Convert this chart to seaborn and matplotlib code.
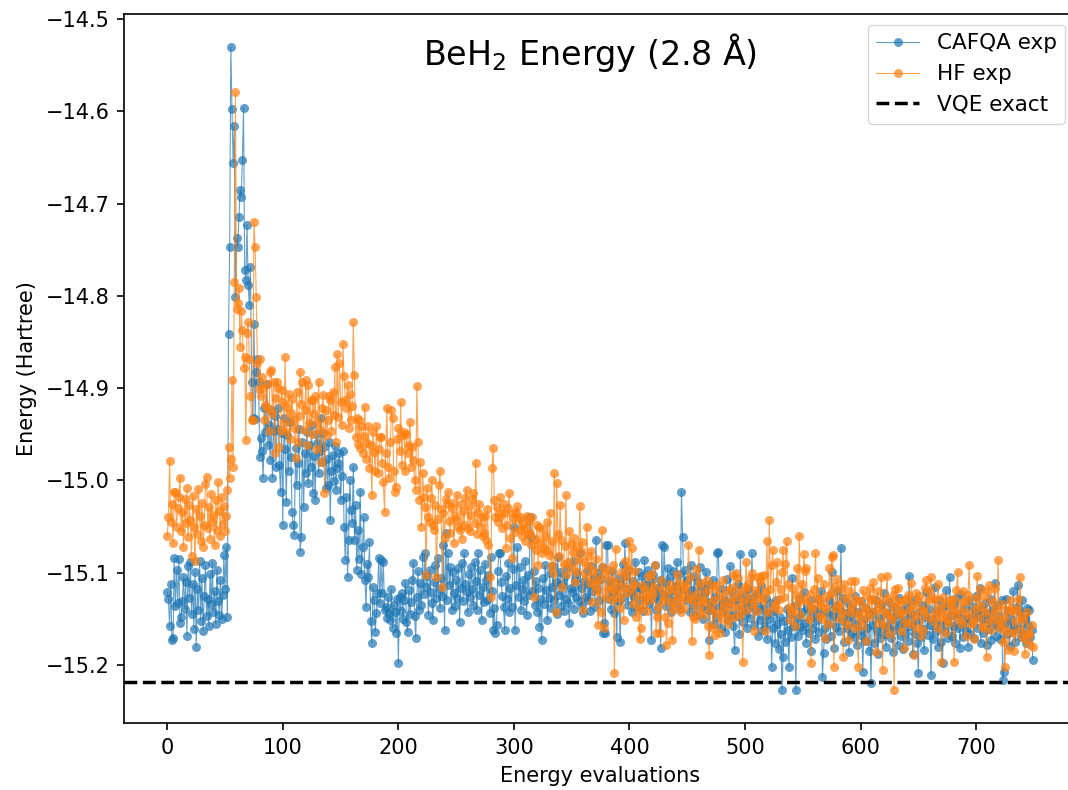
import numpy as np
import pandas as pd
import matplotlib
matplotlib.use("Agg")
import matplotlib.pyplot as plt
import seaborn as sns

# ---------------- data (energies in milli-Hartree) ----------------
cafqa_mha = [
    -15121, -15128, -15158, -15112, -15173, -15171, -15084, -15136, -15097, -15133,
    -15085, -15154, -15148, -15131, -15105, -15139, -15110, -15168, -15093, -15127,
    -15088, -15145, -15112, -15161, -15099, -15180, -15118, -15140, -15087, -15152,
    -15106, -15163, -15125, -15092, -15147, -15128, -15158, -15101, -15134, -15089,
    -15142, -15120, -15155, -15097, -15131, -15146, -15108, -15150, -15124, -15081,
    -15118, -15072, -15148, -14841, -14747, -14530, -14598, -14656, -14616, -14801,
    -14737, -14747, -14715, -14685, -14693, -14653, -14596, -14772, -14783, -14723,
    -14788, -14810, -14769, -14893, -14932, -14830, -14933, -14882, -14868, -14893,
    -14975, -14954, -14968, -14997, -14921, -14948, -14895, -14962, -14940, -14978,
    -14924, -14997, -14946, -14930, -14985, -14944, -14921, -14983, -15012, -14949,
    -15048, -14932, -14966, -15023, -14951, -14990, -14937, -14975, -15034, -15048,
    -15059, -14965, -15005, -14981, -14944, -15077, -15061, -14958, -15029, -14970,
    -14992, -14948, -15003, -14962, -14985, -14940, -15014, -14973, -15021, -14950,
    -14959, -14992, -14968, -14932, -14980, -14949, -14964, -15008, -14977, -15005,
    -14958, -15043, -14990, -14972, -15001, -14963, -15010, -14987, -14981, -14970,
    -15021, -14995, -14968, -15050, -15086, -15018, -15105, -15064, -14999, -15032,
    -15046, -14985, -15064, -15027, -15097, -15054, -15085, -15012, -15101, -15072,
    -15040, -15108, -15137, -15090, -15105, -15067, -15152, -15176, -15115, -15130,
    -15164, -15144, -15122, -15084, -15133, -15086, -15122, -15088, -15140, -15137,
    -15149, -15126, -15144, -15151, -15118, -15160, -15135, -15142, -15165, -15128,
    -15198, -15126, -15141, -15122, -15150, -15130, -15111, -15153, -15164, -15119,
    -15145, -15132, -15108, -15089, -15147, -15171, -15126, -15098, -15140, -15111,
    -15135, -15083, -15123, -15079, -15115, -15104, -15146, -15097, -15121, -15133,
    -15151, -15110, -15092, -15127, -15084, -15118, -15138, -15106, -15125, -15070,
    -15162, -15057, -15130, -15079, -15113, -15094, -15140, -15099, -15122, -15136,
    -15108, -15127, -15095, -15153, -15116, -15089, -15131, -15079, -15112, -15121,
    -15143, -15101, -15126, -15094, -15118, -15135, -15088, -15109, -15140, -15079,
    -15124, -15097, -15151, -15115, -15132, -15090, -15108, -15129, -15102, -15144,
    -15083, -15120, -15162, -15138, -15165, -15157, -15098, -15079, -15079, -15110,
    -15125, -15137, -15162, -15104, -15128, -15089, -15142, -15117, -15137, -15096,
    -15050, -15162, -15113, -15072, -15126, -15094, -15140, -15118, -15108, -15131,
    -15087, -15146, -15102, -15124, -15040, -15061, -15120, -15098, -15135, -15109,
    -15142, -15117, -15159, -15128, -15173, -15106, -15134, -15092, -15119, -15151,
    -15127, -15100, -15138, -15115, -15093, -15129, -15110, -15145, -15083, -15124,
    -15099, -15136, -15112, -15141, -15104, -15128, -15095, -15133, -15154, -15116,
    -15121, -15087, -15139, -15108, -15126, -15100, -15131, -15079, -15117, -15135,
    -15144, -15109, -15126, -15098, -15130, -15112, -15141, -15093, -15120, -15106,
    -15137, -15064, -15118, -15100, -15129, -15107, -15094, -15165, -15154, -15165,
    -15070, -15070, -15128, -15110, -15139, -15098, -15122, -15144, -15117, -15170,
    -15106, -15131, -15175, -15112, -15090, -15126, -15068, -15104, -15118, -15135,
    -15097, -15121, -15143, -15109, -15126, -15088, -15137, -15115, -15099, -15130,
    -15118, -15104, -15141, -15086, -15113, -15128, -15097, -15134, -15110, -15173,
    -15102, -15125, -15092, -15140, -15116, -15131, -15108, -15181, -15070, -15123,
    -15072, -15111, -15136, -15095, -15127, -15105, -15142, -15119, -15098, -15133,
    -15114, -15088, -15125, -15101, -15139, -15012, -15061, -15118, -15097, -15130,
    -15108, -15124, -15143, -15092, -15119, -15135, -15103, -15128, -15146, -15110,
    -15126, -15094, -15137, -15115, -15150, -15121, -15099, -15140, -15113, -15173,
    -15132, -15140, -15108, -15155, -15126, -15148, -15079, -15077, -15136, -15160,
    -15118, -15142, -15129, -15164, -15107, -15151, -15133, -15093, -15146, -15120,
    -15158, -15184, -15128, -15147, -15112, -15166, -15080, -15139, -15153, -15124,
    -15145, -15131, -15160, -15118, -15149, -15135, -15079, -15127, -15157, -15140,
    -15122, -15168, -15136, -15151, -15114, -15162, -15139, -15158, -15127, -15172,
    -15144, -15150, -15133, -15202, -15160, -15141, -15176, -15129, -15155, -15183,
    -15148, -15166, -15227, -15191, -15152, -15175, -15139, -15162, -15202, -15145,
    -15170, -15106, -15158, -15136, -15227, -15149, -15168, -15127, -15159, -15143,
    -15162, -15121, -15154, -15176, -15138, -15165, -15130, -15185, -15147, -15160,
    -15139, -15172, -15151, -15128, -15164, -15145, -15120, -15213, -15187, -15160,
    -15172, -15142, -15155, -15130, -15168, -15099, -15147, -15181, -15136, -15159,
    -15120, -15163, -15140, -15073, -15152, -15127, -15175, -15144, -15160, -15133,
    -15186, -15148, -15166, -15139, -15170, -15125, -15155, -15178, -15142, -15162,
    -15131, -15169, -15207, -15150, -15174, -15138, -15160, -15185, -15145, -15219,
    -15157, -15142, -15176, -15130, -15163, -15188, -15149, -15171, -15135, -15158,
    -15122, -15166, -15180, -15144, -15159, -15132, -15171, -15150, -15186, -15137,
    -15162, -15146, -15178, -15127, -15155, -15169, -15140, -15183, -15151, -15165,
    -15136, -15174, -15103, -15158, -15145, -15188, -15130, -15166, -15152, -15176,
    -15209, -15143, -15170, -15135, -15161, -15184, -15148, -15121, -15167, -15139,
    -15157, -15211, -15150, -15172, -15115, -15163, -15141, -15180, -15129, -15156,
    -15175, -15198, -15136, -15163, -15119, -15152, -15171, -15105, -15146, -15168,
    -15158, -15134, -15176, -15127, -15160, -15145, -15182, -15123, -15155, -15170,
    -15138, -15163, -15149, -15180, -15130, -15166, -15152, -15137, -15171, -15144,
    -15125, -15160, -15147, -15117, -15176, -15139, -15165, -15150, -15133, -15178,
    -15145, -15161, -15128, -15173, -15140, -15156, -15111, -15168, -15135, -15159,
    -15147, -15172, -15130, -15216, -15207, -15154, -15128, -15166, -15141, -15179,
    -15150, -15163, -15120, -15158, -15175, -15137, -15113, -15161, -15142, -15170,
    -15129, -15166, -15149, -15176, -15138, -15157, -15140, -15170, -15162, -15194,
]

hf_mha = [
    -15060, -15040, -14979, -15045, -15025, -15068, -15012, -15012, -15050, -15030,
    -15018, -14997, -15055, -15034, -15072, -15020, -15046, -15008, -15061, -15027,
    -15043, -15082, -15017, -15050, -15087, -15031, -15058, -15009, -15039, -15066,
    -15024, -15072, -15048, -15004, -14996, -15052, -15029, -15063, -15015, -15045,
    -15037, -15070, -15021, -15054, -15002, -15033, -15060, -15018, -15047, -15028,
    -15055, -15038, -15010, -14964, -14997, -14977, -14891, -14985, -14785, -14579,
    -14814, -14808, -14791, -14855, -14816, -14837, -14878, -14866, -14956, -14840,
    -14828, -14868, -14909, -14934, -14934, -14720, -14747, -14801, -14873, -14901,
    -14868, -14909, -14888, -14900, -14935, -14918, -14896, -14922, -14946, -14882,
    -14880, -14927, -14893, -14970, -14911, -14893, -14900, -14964, -14945, -14902,
    -14915, -14938, -14866, -14948, -14920, -14906, -14955, -14927, -14912, -14935,
    -14943, -14976, -14904, -14958, -14930, -14882, -14917, -14893, -14945, -14924,
    -14891, -14962, -14897, -14938, -14913, -14950, -14913, -14928, -14909, -14966,
    -14937, -14893, -14945, -14980, -14921, -14907, -15014, -14924, -14951, -14935,
    -14908, -14913, -14946, -14904, -14929, -14877, -14958, -14863, -14931, -14873,
    -14915, -14940, -14852, -14887, -14913, -14921, -14897, -14943, -14906, -14935,
    -14919, -14828, -14886, -14953, -14932, -14960, -14934, -14965, -14941, -14970,
    -14952, -14920, -14977, -14959, -14941, -14986, -14962, -15016, -14948, -14969,
    -14990, -14941, -14992, -14966, -14953, -14953, -14981, -15002, -15034, -14970,
    -14921, -14985, -14997, -14958, -14924, -14932, -14990, -15012, -15007, -14955,
    -14943, -14968, -14915, -14983, -14951, -14947, -14990, -14950, -14970, -14962,
    -14937, -14985, -14964, -14978, -14999, -15010, -14898, -14958, -15021, -14980,
    -15050, -14992, -15018, -15029, -15102, -15008, -15040, -15045, -15019, -15000,
    -15048, -15054, -15027, -15105, -15042, -15005, -14990, -15031, -15115, -15035,
    -15062, -15020, -15025, -15012, -15044, -15057, -15030, -15024, -15068, -15039,
    -15043, -15016, -15050, -15054, -15026, -15063, -15033, -15048, -15019, -15010,
    -15052, -15028, -15055, -15037, -15020, -15014, -15046, -14981, -15058, -15034,
    -15025, -15049, -15040, -15060, -15057, -15038, -15064, -15031, -15070, -15105,
    -15126, -14986, -14965, -15021, -15040, -15029, -15045, -15040, -15018, -15035,
    -15052, -15026, -15035, -15073, -15048, -15030, -15014, -15062, -15084, -15041,
    -15035, -15056, -15034, -15028, -15042, -15054, -15040, -15060, -15047, -15051,
    -15066, -15038, -15058, -15044, -15057, -15070, -15040, -15126, -15063, -15075,
    -15048, -15092, -15050, -15068, -15079, -15053, -15073, -15060, -15075, -15045,
    -15081, -15035, -15093, -15066, -15100, -14992, -15142, -15003, -15058, -15082,
    -15027, -15064, -15115, -15090, -15071, -15016, -15101, -15088, -15055, -15069,
    -15095, -15078, -15062, -15110, -15071, -15099, -15085, -15028, -15076, -15067,
    -15140, -15088, -15104, -15050, -15082, -15093, -15111, -15076, -15132, -15098,
    -15113, -15085, -15120, -15157, -15107, -15142, -15054, -15094, -15160, -15101,
    -15126, -15118, -15097, -15108, -15116, -15130, -15092, -15209, -15074, -15121,
    -15110, -15127, -15138, -15099, -15115, -15151, -15087, -15103, -15122, -15095,
    -15066, -15117, -15073, -15134, -15112, -15098, -15148, -15125, -15140, -15172,
    -15160, -15113, -15135, -15118, -15127, -15141, -15104, -15122, -15130, -15101,
    -15123, -15115, -15092, -15165, -15148, -15137, -15165, -15108, -15118, -15131,
    -15125, -15148, -15178, -15154, -15119, -15112, -15132, -15173, -15140, -15118,
    -15136, -15101, -15125, -15110, -15129, -15143, -15115, -15138, -15120, -15112,
    -15127, -15070, -15105, -15130, -15174, -15148, -15124, -15150, -15096, -15135,
    -15075, -15142, -15111, -15128, -15146, -15132, -15120, -15108, -15158, -15189,
    -15139, -15113, -15160, -15129, -15167, -15118, -15113, -15144, -15165, -15125,
    -15150, -15108, -15135, -15142, -15120, -15155, -15149, -15131, -15116, -15137,
    -15102, -15148, -15100, -15126, -15106, -15137, -15145, -15120, -15197, -15131,
    -15115, -15088, -15140, -15112, -15127, -15105, -15100, -15134, -15163, -15119,
    -15141, -15105, -15126, -15109, -15104, -15130, -15102, -15163, -15121, -15066,
    -15143, -15043, -15118, -15092, -15075, -15137, -15134, -15110, -15088, -15140,
    -15128, -15118, -15099, -15075, -15126, -15090, -15066, -15112, -15137, -15151,
    -15143, -15116, -15140, -15158, -15124, -15095, -15133, -15060, -15146, -15112,
    -15128, -15080, -15098, -15095, -15132, -15150, -15123, -15198, -15139, -15135,
    -15118, -15079, -15126, -15106, -15147, -15129, -15135, -15150, -15112, -15171,
    -15138, -15125, -15156, -15095, -15122, -15083, -15081, -15202, -15114, -15138,
    -15107, -15135, -15150, -15118, -15144, -15191, -15112, -15127, -15155, -15173,
    -15120, -15143, -15109, -15136, -15160, -15109, -15128, -15145, -15202, -15131,
    -15150, -15158, -15119, -15142, -15137, -15174, -15125, -15148, -15117, -15130,
    -15143, -15110, -15128, -15186, -15139, -15120, -15154, -15133, -15105, -15205,
    -15141, -15158, -15127, -15103, -15146, -15166, -15132, -15150, -15124, -15227,
    -15118, -15138, -15117, -15145, -15132, -15163, -15144, -15129, -15182, -15153,
    -15128, -15124, -15140, -15156, -15111, -15135, -15189, -15147, -15122, -15160,
    -15130, -15125, -15168, -15139, -15162, -15143, -15117, -15108, -15148, -15130,
    -15120, -15105, -15127, -15152, -15144, -15128, -15160, -15112, -15138, -15149,
    -15197, -15126, -15145, -15133, -15165, -15150, -15154, -15129, -15141, -15136,
    -15128, -15197, -15146, -15119, -15099, -15140, -15151, -15155, -15132, -15120,
    -15143, -15168, -15131, -15124, -15092, -15147, -15155, -15153, -15172, -15139,
    -15127, -15104, -15149, -15136, -15118, -15158, -15160, -15125, -15142, -15191,
    -15120, -15113, -15152, -15162, -15131, -15146, -15116, -15139, -15150, -15086,
    -15155, -15160, -15134, -15175, -15148, -15202, -15140, -15163, -15184, -15129,
    -15138, -15141, -15165, -15185, -15152, -15140, -15128, -15162, -15105, -15147,
    -15170, -15150, -15188, -15172, -15143, -15165, -15166, -15178, -15157, -15180,
]

vqe_exact = -15.2183
series_labels = ["CAFQA exp", "HF exp", "VQE exact"]
title_text = r"BeH$_2$ Energy (2.8 Å)"
x_label = "Energy evaluations"
y_label = "Energy (Hartree)"

cafqa = np.array(cafqa_mha) / 1000.0
hf = np.array(hf_mha) / 1000.0
df = pd.DataFrame({
    "eval": np.concatenate([np.arange(len(cafqa)), np.arange(len(hf))]),
    "energy": np.concatenate([cafqa, hf]),
    "series": [series_labels[0]] * len(cafqa) + [series_labels[1]] * len(hf),
})

# ---------------- style ----------------
sns.set_style("ticks", rc={
    "axes.edgecolor": "black", "text.color": "black", "axes.labelcolor": "black",
    "xtick.color": "black", "ytick.color": "black",
})
plt.rcParams["font.family"] = ["DejaVu Sans"]
plt.rcParams["axes.linewidth"] = 1.2
plt.rcParams["xtick.major.width"] = 1.2
plt.rcParams["ytick.major.width"] = 1.2
plt.rcParams["xtick.major.size"] = 5.25
plt.rcParams["ytick.major.size"] = 5.25
plt.rcParams["xtick.major.pad"] = 5.25
plt.rcParams["ytick.major.pad"] = 5.25
plt.rcParams["axes.unicode_minus"] = True

fig = plt.figure(figsize=(10.68, 7.90), dpi=100)
ax = fig.add_axes([124 / 1068, 67 / 790, 952 / 1068, 709 / 790])

palette = {series_labels[0]: "#1f77b4", series_labels[1]: "#ff7f0e"}
for name in series_labels[:2]:
    sub = df[df["series"] == name]
    sns.lineplot(data=sub, x="eval", y="energy", ax=ax, color=palette[name],
                 marker="o", markersize=6.5, markeredgewidth=0, linewidth=0.8,
                 alpha=0.7, sort=False, errorbar=None, label=name)

ax.axhline(vqe_exact, color="black", linestyle="--", linewidth=2.5, label=series_labels[2])

ax.set_xlim(-37.45, 786.45)
ax.set_ylim(-15.2628, -14.4946)
ax.set_xticks(np.arange(0, 701, 100))
ax.set_yticks(np.round(np.arange(-15.2, -14.45, 0.1), 1))
ax.tick_params(labelsize=15)
ax.set_xlabel(x_label, fontsize=15, labelpad=6)
ax.set_ylabel(y_label, fontsize=15, labelpad=6)
ax.text(0.49, 0.928, title_text, transform=ax.transAxes, ha="center",
        va="baseline", fontsize=24)
ax.legend(loc="upper right", fontsize=15.5, frameon=True)

fig.savefig("out.png", dpi=100)
